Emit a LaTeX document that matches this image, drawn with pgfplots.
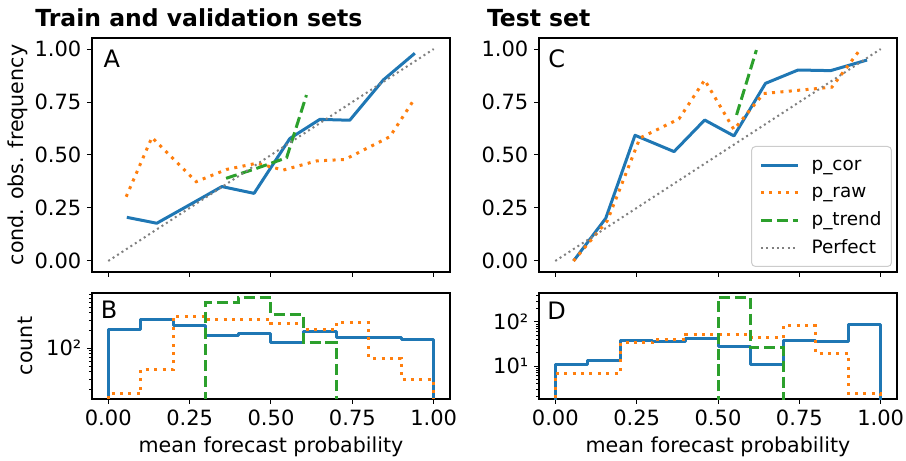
\documentclass[border=0pt]{standalone}
\usepackage{fontspec}
\setmainfont{DejaVu Sans}
\usepackage{pgfplots}
\pgfplotsset{compat=1.18}
\definecolor{cblue}{RGB}{31,119,180}
\definecolor{corange}{RGB}{255,127,14}
\definecolor{cgreen}{RGB}{44,160,44}
\definecolor{cgray}{RGB}{128,128,128}
\tikzset{
  pcor/.style={cblue, line width=1.5pt, line join=round},
  praw/.style={corange, line width=1.5pt, line cap=butt, dash pattern=on 1.5pt off 2.7pt},
  ptrend/.style={cgreen, line width=1.5pt, line cap=butt, dash pattern=on 5.55pt off 2.4pt},
  perf/.style={cgray, line width=1pt, line cap=butt, dash pattern=on 1pt off 1.65pt},
  letter/.style={anchor=base west, inner sep=0pt, font=\fontsize{12}{14}\selectfont},
}
\pgfplotsset{
  mybase/.style={
    scale only axis, width=179pt,
    xmin=-0.05, xmax=1.05,
    xtick={0,0.25,0.5,0.75,1},
    tick pos=left, tick align=outside,
    major tick length=2.5pt, minor tick length=1.5pt,
    every tick/.append style={black, line width=0.5pt},
    axis line style={line width=0.6pt},
    ticklabel style={font=\fontsize{10.5}{12}\selectfont, inner sep=0pt},
    xticklabel style={yshift=-2.65pt},
    yticklabel style={xshift=-2.65pt},
    label style={font=\fontsize{10.3}{12}\selectfont, inner sep=0pt},
    legend image code/.code={\draw[#1, line cap=butt] (0pt,0pt) -- (18.5pt,0pt);},
  },
  myrel/.style={
    height=117pt, ymin=-0.052, ymax=1.052,
    ytick={0,0.25,0.5,0.75,1}, yticklabels={0.00,0.25,0.50,0.75,1.00},
    xticklabels={},
  },
  myhist/.style={
    height=53pt,
    xticklabels={0.00,0.25,0.50,0.75,1.00},
    xlabel={mean forecast probability},
    xlabel style={at={(axis description cs:0.5,-0.356)}, anchor=north},
  },
}
\begin{document}
\begin{tikzpicture}
\useasboundingbox (0,0) rectangle (453pt,230.5pt);
\node[anchor=base west, inner sep=0pt, font=\fontsize{11.75}{14}\selectfont\bfseries] at (17.5pt,217.15pt) {Train and validation sets};
\node[anchor=base west, inner sep=0pt, font=\fontsize{11.75}{14}\selectfont\bfseries] at (243.3pt,217.15pt) {Test set};

% Panel A
\begin{axis}[mybase, myrel, at={(46pt,94.5pt)}, anchor=south west,
  ylabel={cond. obs. frequency},
  ylabel style={at={(axis description cs:-0.2067,0.5)}, anchor=center}]
\addplot[pcor] coordinates {(0.057,0.206) (0.149,0.178) (0.25,0.265) (0.349,0.351) (0.448,0.319) (0.558,0.578) (0.650,0.668) (0.742,0.664) (0.845,0.854) (0.942,0.980)};
\addplot[praw] coordinates {(0.055,0.303) (0.134,0.583) (0.270,0.374) (0.364,0.432) (0.456,0.461) (0.538,0.429) (0.640,0.472) (0.727,0.479) (0.865,0.586) (0.942,0.767)};
\addplot[ptrend] coordinates {(0.362,0.390) (0.452,0.435) (0.548,0.487) (0.609,0.783)};
\addplot[perf] coordinates {(0,0) (1,1)};
\node[letter] at (rel axis cs:0.031,0.873) {A};
\end{axis}

% Panel B
\begin{axis}[ymode=log, mybase, myhist, at={(46pt,31pt)}, anchor=south west,
  ymin=13.8, ymax=865,
  ytick={100}, yticklabels={10²},
  minor ytick={20,30,40,50,60,70,80,90,200,300,400,500,600,700,800,900},
  ylabel={count},
  ylabel style={at={(axis description cs:-0.164,0.5)}, anchor=south}]
\addplot[pcor, const plot mark left] coordinates {(0,1) (0,212) (0.1,302) (0.2,239) (0.3,164) (0.4,177) (0.5,124) (0.6,191) (0.7,153) (0.8,153) (0.9,142) (1.0,142) (1.0,1)};
\addplot[praw, const plot mark left] coordinates {(0,1) (0,16.8) (0.1,44) (0.2,352) (0.3,310) (0.4,310) (0.5,265) (0.6,210) (0.7,272) (0.8,68) (0.9,30) (1.0,30) (1.0,1)};
\addplot[ptrend, const plot mark left] coordinates {(0.3,1) (0.3,603) (0.4,731) (0.5,367) (0.6,124) (0.7,124) (0.7,1)};
\node[letter] at (rel axis cs:0.0235,0.757) {B};
\end{axis}

% Panel C
\begin{axis}[mybase, myrel, at={(269.5pt,94.5pt)}, anchor=south west,
  legend cell align=left,
  legend style={at={(0.986,0.0214)}, anchor=south east, draw=black!20, fill=white, fill opacity=0.8, text opacity=1,
    rounded corners=2pt, line width=0.5pt, font=\fontsize{9.2}{11}\selectfont,
    inner xsep=4pt, inner ysep=3.3pt, row sep=1.8pt, column sep=5pt,
    nodes={inner sep=1pt, text height=0.76em, text depth=0.24em}}]
\addplot[pcor] coordinates {(0.056,0.0) (0.155,0.201) (0.245,0.593) (0.365,0.516) (0.459,0.665) (0.549,0.590) (0.646,0.838) (0.746,0.901) (0.846,0.898) (0.958,0.948)};
\addlegendentry{p\_cor}
\addplot[praw] coordinates {(0.056,0.0) (0.160,0.190) (0.260,0.580) (0.380,0.670) (0.459,0.854) (0.549,0.620) (0.640,0.790) (0.745,0.805) (0.850,0.820) (0.933,0.990)};
\addlegendentry{p\_raw}
\addplot[ptrend] coordinates {(0.557,0.689) (0.618,0.995)};
\addlegendentry{p\_trend}
\addplot[perf] coordinates {(0,0) (1,1)};
\addlegendentry{Perfect}
\node[letter] at (rel axis cs:0.025,0.873) {C};
\end{axis}

% Panel D
\begin{axis}[ymode=log, mybase, myhist, at={(269.5pt,31pt)}, anchor=south west,
  ymin=1.78, ymax=456,
  ytick={10,100}, yticklabels={10¹,10²},
  minor ytick={2,3,4,5,6,7,8,9,20,30,40,50,60,70,80,90,200,300,400}]
\addplot[pcor, const plot mark left] coordinates {(0,0.5) (0,11) (0.1,13) (0.2,37.7) (0.3,35.7) (0.4,43) (0.5,27.5) (0.6,11) (0.7,37.7) (0.8,37) (0.9,88) (1.0,88) (1.0,0.5)};
\addplot[praw, const plot mark left] coordinates {(0,0.5) (0,6.8) (0.1,6.8) (0.2,34.5) (0.3,40) (0.4,51) (0.5,51) (0.6,44) (0.7,82) (0.8,19.7) (0.9,2.4) (1.0,2.4) (1.0,0.5)};
\addplot[ptrend, const plot mark left] coordinates {(0.5,0.5) (0.5,364) (0.6,26) (0.7,26) (0.7,0.5)};
\node[letter] at (rel axis cs:0.022,0.752) {D};
\end{axis}
\end{tikzpicture}
\end{document}
